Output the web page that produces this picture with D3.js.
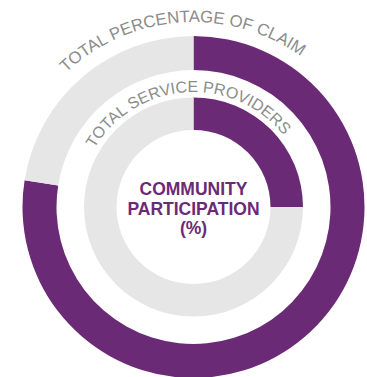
<!DOCTYPE html>
<html>
<head>
<meta charset="utf-8">
<script src="https://cdn.jsdelivr.net/npm/d3@7"></script>
<style>
  html, body { margin: 0; padding: 0; background: #fff; }
  svg { display: block; }
</style>
</head>
<body>
<svg id="chart" width="367" height="377"></svg>
<script>
// ---- data ----
const ringLabels = ["TOTAL PERCENTAGE OF CLAIM", "TOTAL SERVICE PROVIDERS"];
const ringValues = [77.5, 25];      // percent shown in purple
const centerLines = ["COMMUNITY", "PARTICIPATION", "(%)"];

// ---- layout ----
const W = 367, H = 377, cx = 193.5, cy = 207;
const ringGeom = [
  { inner: 137, outer: 171, labelR: 185, fontSize: 16.8 },
  { inner: 77,  outer: 109.5, labelR: 115, fontSize: 16 }
];
const purple = "#6B2A75", grey = "#E6E6E6", textGrey = "#8C8C8C";
const fontFam = "'Liberation Sans', Arial, sans-serif";

const svg = d3.select("#chart");
const g = svg.append("g").attr("transform", `translate(${cx},${cy})`);

const pie = d3.pie().sort(null).value(d => d);
const angle = d3.scaleLinear().domain([0, 100]).range([0, 2 * Math.PI]);

ringValues.forEach((v, i) => {
  const geo = ringGeom[i];
  const arc = d3.arc().innerRadius(geo.inner).outerRadius(geo.outer);
  const slices = pie([v, 100 - v]);
  g.append("g").selectAll("path")
    .data(slices)
    .join("path")
    .attr("d", d => arc({ startAngle: angle(d3.sum(slices.slice(0, d.index), s => s.data)), endAngle: angle(d3.sum(slices.slice(0, d.index + 1), s => s.data)) }))
    .attr("fill", (d, j) => j === 0 ? purple : grey);

  // curved label
  const r = geo.labelR;
  const id = "lbl" + i;
  g.append("path")
    .attr("id", id)
    .attr("d", `M0,${r} A${r},${r} 0 1 1 0,${-r} A${r},${r} 0 1 1 0,${r}`)
    .attr("fill", "none");
  g.append("text")
    .attr("font-family", fontFam)
    .attr("font-size", geo.fontSize)
    .attr("fill", textGrey)
    .append("textPath")
    .attr("href", "#" + id)
    .attr("startOffset", (50 - 4 / 3.6) + "%")
    .attr("text-anchor", "middle")
    .text(ringLabels[i]);
});

// center text
const lineY = [-12, 7.5, 27];
g.append("g").selectAll("text")
  .data(centerLines)
  .join("text")
  .attr("x", 0)
  .attr("y", (d, i) => lineY[i])
  .attr("text-anchor", "middle")
  .attr("font-family", fontFam)
  .attr("font-weight", "bold")
  .attr("font-size", 17.5)
  .attr("fill", purple)
  .text(d => d);
</script>
</body>
</html>
